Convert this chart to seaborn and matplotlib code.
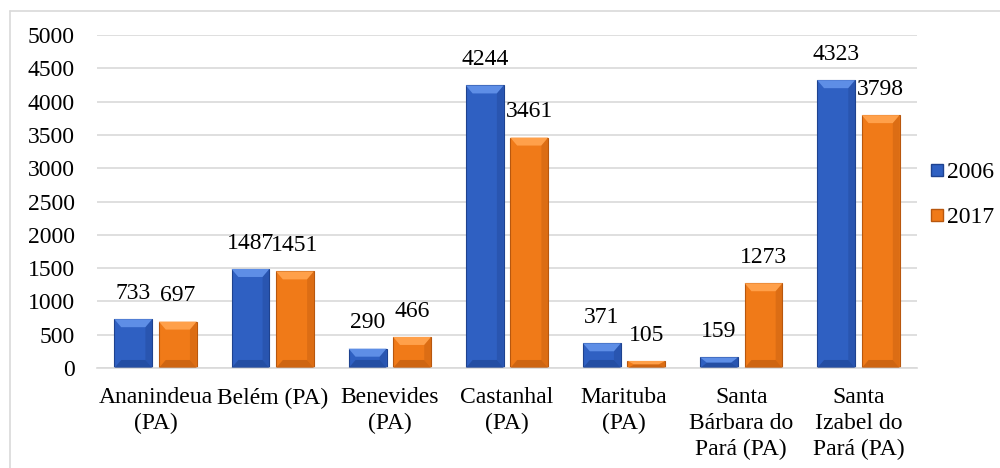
import numpy as np
import pandas as pd
import matplotlib
matplotlib.use("Agg")
import matplotlib.pyplot as plt
from matplotlib.patches import Polygon
from matplotlib.lines import Line2D
import seaborn as sns

# chart data
municipios = ["Ananindeua\n(PA)", "Belém (PA)", "Benevides\n(PA)", "Castanhal\n(PA)",
              "Marituba\n(PA)", "Santa\nBárbara do\nPará (PA)", "Santa\nIzabel do\nPará (PA)"]
anos = ["2006", "2017"]
valores_2006 = [733, 1487, 290, 4244, 371, 159, 4323]
valores_2017 = [697, 1451, 466, 3461, 105, 1273, 3798]
y_ticks = [0, 500, 1000, 1500, 2000, 2500, 3000, 3500, 4000, 4500, 5000]

cores = {"2006": "#2F60C2", "2017": "#F07A18"}
claro = {"2006": "#5E8EE6", "2017": "#FFA04A"}
escuro = {"2006": "#1E428F", "2017": "#B8570E"}

df = pd.DataFrame({
    "municipio": municipios * 2,
    "ano": [anos[0]] * len(municipios) + [anos[1]] * len(municipios),
    "valor": valores_2006 + valores_2017,
})

sns.set_theme(style="white")
plt.rcParams["font.family"] = ["Liberation Serif", "DejaVu Serif"]
plt.rcParams["text.color"] = "black"

fig = plt.figure(figsize=(10, 4.68), dpi=100)
ax = fig.add_axes([0.097, 0.2137, 0.82, 0.7113])

sns.barplot(data=df, x="municipio", y="valor", hue="ano", palette=cores,
            width=0.76, gap=0.15, ax=ax, legend=False, saturation=1)

ax.set_ylim(0, 5000)
ax.set_yticks(y_ticks)
ax.yaxis.grid(True, color="#d9d9d9", linewidth=1.2)
ax.set_axisbelow(True)
for s in ["left", "top", "right"]:
    ax.spines[s].set_visible(False)
ax.spines["bottom"].set_color("#d9d9d9")
ax.spines["bottom"].set_linewidth(1.2)
ax.tick_params(axis="both", length=0, colors="black")
ax.tick_params(axis="y", pad=16, labelsize=17)
ax.tick_params(axis="x", pad=14, labelsize=17)
ax.set_xlabel("")
ax.set_ylabel("")
for lbl in ax.get_xticklabels():
    lbl.set_linespacing(1.3)

# bevel shading on each bar
dy_per_px = 5000 / (0.7113 * 468)
for cont, ano in zip(ax.containers, anos):
    ax.bar_label(cont, labels=[str(int(v)) for v in cont.datavalues],
                 padding=11, fontsize=17, color="black")
    for p in cont.patches:
        x0, y0 = p.get_x(), p.get_y()
        w, h = p.get_width(), p.get_height()
        p.set_edgecolor(escuro[ano])
        p.set_linewidth(0.8)
        bx = w * 0.18
        by = min(8 * dy_per_px, h / 2)
        x1, y1 = x0 + w, y0 + h
        ax.add_patch(Polygon([(x0, y1), (x1, y1), (x1 - bx, y1 - by), (x0 + bx, y1 - by)],
                             closed=True, facecolor=claro[ano], edgecolor="none", zorder=3))
        ax.add_patch(Polygon([(x0, y0), (x1, y0), (x1 - bx, y0 + by), (x0 + bx, y0 + by)],
                             closed=True, facecolor=escuro[ano], edgecolor="none", zorder=3, alpha=0.6))
        ax.add_patch(Polygon([(x1, y0), (x1, y1), (x1 - bx, y1 - by), (x1 - bx, y0 + by)],
                             closed=True, facecolor=escuro[ano], edgecolor="none", zorder=3, alpha=0.35))

handles = [Line2D([0], [0], marker="s", linestyle="", markersize=9,
                  markerfacecolor=cores[a], markeredgecolor=escuro[a]) for a in anos]
fig.legend(handles, anos, loc="center left", bbox_to_anchor=(0.927, 0.583),
           frameon=False, fontsize=17, handletextpad=0.0, labelspacing=1.0,
           handlelength=0.85, borderpad=0, borderaxespad=0)

# outer chart border
fig.add_artist(Line2D([0.010, 0.010], [0.0, 0.976], color="#d9d9d9", linewidth=1.2))
fig.add_artist(Line2D([0.010, 1.0], [0.976, 0.976], color="#d9d9d9", linewidth=1.2))

fig.savefig("out.png", dpi=100, facecolor="white")
